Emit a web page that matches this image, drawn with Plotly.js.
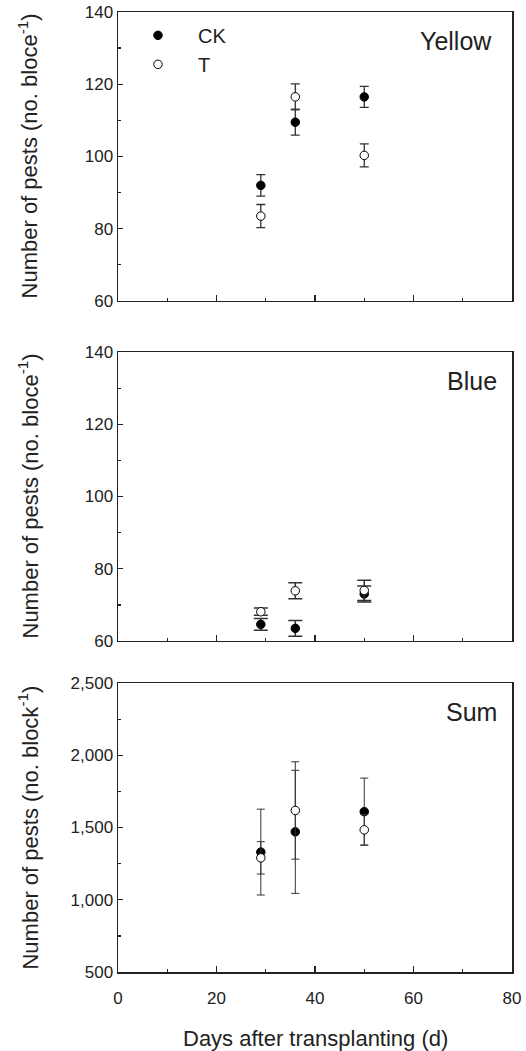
<!DOCTYPE html>
<html>
<head>
<meta charset="utf-8">
<script src="https://cdn.plot.ly/plotly-3.0.1.min.js"></script>
<style>html,body{margin:0;padding:0;background:#fff;}#chart{width:526px;height:1051px;}</style>
</head>
<body>
<div id="chart"></div>
<script>
// ---- data ----
const days = [29, 36, 50];
const seriesNames = ["CK", "T"];
const panelLabels = ["Yellow", "Blue", "Sum"];

const yellowCK = [92, 109.5, 116.5];
const yellowCKErr = [3, 3.6, 2.9];
const yellowT = [83.5, 116.5, 100.3];
const yellowTErr = [3.2, 3.6, 3.2];

const blueCK = [64.6, 63.5, 73];
const blueCKErr = [1.6, 2.2, 2.2];
const blueT = [68.1, 73.9, 74];
const blueTErr = [1, 2.2, 2.8];

const sumCK = [1330, 1470, 1610];
const sumCKErr = [297, 426, 232];
const sumT = [1290, 1618, 1484];
const sumTErr = [112, 337, 106];

const xTickVals = [0, 20, 40, 60, 80];
const yTickVals12 = [60, 80, 100, 120, 140];
const yTickVals3 = [500, 1000, 1500, 2000, 2500];

// ---- styling ----
const ink = "#222";
const fontFam = "Liberation Sans, Arial, sans-serif";

function mk(name, x, y, err, filled, xa, ya, showLegend, capW, errW) {
  return {
    type: "scatter", mode: "markers", name: name,
    x: x, y: y, xaxis: xa, yaxis: ya,
    showlegend: showLegend,
    marker: {
      symbol: "circle", size: 8.5,
      color: filled ? "#000" : "#fff",
      line: {color: "#000", width: 1}
    },
    error_y: {type: "data", array: err, visible: true, color: "#333", thickness: errW, width: capW}
  };
}

const traces = [
  mk(seriesNames[0], days, yellowCK, yellowCKErr, true, "x", "y", true, 4.5, 1.3),
  mk(seriesNames[1], days, yellowT, yellowTErr, false, "x", "y", true, 4.5, 1.3),
  mk(seriesNames[0], days, blueCK, blueCKErr, true, "x2", "y2", false, 7, 1.5),
  mk(seriesNames[1], days, blueT, blueTErr, false, "x2", "y2", false, 7, 1.5),
  mk(seriesNames[0], days, sumCK, sumCKErr, true, "x3", "y3", false, 4, 1),
  mk(seriesNames[1], days, sumT, sumTErr, false, "x3", "y3", false, 4, 1)
];

function xAxis(anchor, showLabels) {
  return {
    anchor: anchor, range: [0, 80], tickvals: xTickVals,
    showticklabels: showLabels, ticklabelstandoff: 10,
    ticks: "inside", ticklen: 6, tickwidth: 1.3, tickcolor: ink,
    minor: {dtick: 10, tick0: 0, ticks: "inside", ticklen: 3, tickwidth: 1.3, tickcolor: ink},
    showline: true, linecolor: ink, linewidth: 1.5, mirror: true,
    showgrid: false, zeroline: false,
    tickfont: {family: fontFam, size: 17, color: ink},
    fixedrange: true
  };
}
function yAxis(anchor, domain, range, vals, minorDt, fmt) {
  return {
    anchor: anchor, domain: domain, range: range, tickvals: vals,
    tickformat: fmt,
    ticks: "inside", ticklen: 5, tickwidth: 1.3, tickcolor: ink,
    minor: {dtick: minorDt, tick0: range[0], ticks: "inside", ticklen: 3, tickwidth: 1.3, tickcolor: ink},
    showline: true, linecolor: ink, linewidth: 1.5, mirror: true,
    showgrid: false, zeroline: false,
    tickfont: {family: fontFam, size: 17, color: ink},
    fixedrange: true
  };
}

const L = 118, R = 14, T = 12, B = 79;
const plotW = 526 - L - R;
function pxToPaperX(px) { return (px - L) / plotW; }

const titleFont = {family: fontFam, size: 22, color: ink};
const labelFont = {family: fontFam, size: 25, color: ink};

const annotations = [
  {text: panelLabels[0], x: 1, y: 1, xref: "paper", yref: "paper", xanchor: "right", yanchor: "top", xshift: -18, yshift: -13, showarrow: false, font: labelFont},
  {text: panelLabels[1], x: 1, y: 0.6458, xref: "paper", yref: "paper", xanchor: "right", yanchor: "top", xshift: -13, yshift: -13, showarrow: false, font: labelFont},
  {text: panelLabels[2], x: 1, y: 0.301, xref: "paper", yref: "paper", xanchor: "right", yanchor: "top", xshift: -13, yshift: -13, showarrow: false, font: labelFont},
  {text: "Number of pests (no. bloce<sup>-1</sup>)", textangle: -90, x: pxToPaperX(28), y: (0.699 + 1) / 2, xref: "paper", yref: "paper", xanchor: "center", yanchor: "middle", showarrow: false, font: titleFont},
  {text: "Number of pests (no. bloce<sup>-1</sup>)", textangle: -90, x: pxToPaperX(28), y: (0.3448 + 0.6458) / 2, xref: "paper", yref: "paper", xanchor: "center", yanchor: "middle", showarrow: false, font: titleFont},
  {text: "Number of pests (no. block<sup>-1</sup>)", textangle: -90, x: pxToPaperX(28), y: 0.301 / 2, xref: "paper", yref: "paper", xanchor: "center", yanchor: "middle", showarrow: false, font: titleFont},
  {text: "Days after transplanting (d)", x: 0.5, y: 0, xref: "paper", yref: "paper", xanchor: "center", yanchor: "middle", yshift: -66, showarrow: false, font: titleFont}
];

const layout = {
  width: 526, height: 1051,
  margin: {l: L, r: R, t: T, b: B},
  paper_bgcolor: "#fff", plot_bgcolor: "#fff",
  showlegend: true,
  legend: {
    x: 0, y: 0.996, xanchor: "left", yanchor: "top",
    bgcolor: "rgba(0,0,0,0)", borderwidth: 0,
    font: {family: fontFam, size: 20, color: ink},
    itemwidth: 70, tracegroupgap: 0
  },
  xaxis: xAxis("y", false),
  xaxis2: xAxis("y2", false),
  xaxis3: xAxis("y3", true),
  yaxis: yAxis("x", [0.699, 1], [60, 140], yTickVals12, 10, ""),
  yaxis2: yAxis("x2", [0.3448, 0.6458], [60, 140], yTickVals12, 10, ""),
  yaxis3: yAxis("x3", [0, 0.301], [500, 2500], yTickVals3, 250, ","),
  annotations: annotations
};

Plotly.newPlot("chart", traces, layout, {displayModeBar: false, staticPlot: true});
</script>
</body>
</html>
